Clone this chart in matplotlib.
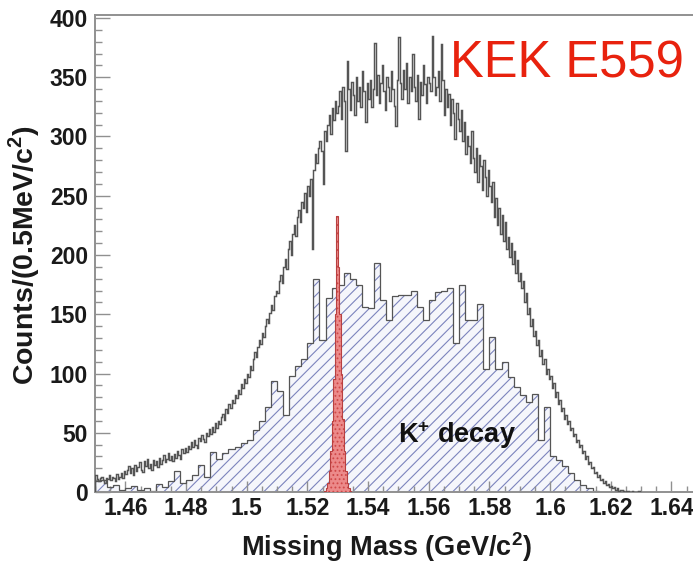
import numpy as np
import matplotlib
matplotlib.use("Agg")
import matplotlib.pyplot as plt
from matplotlib.ticker import MultipleLocator, FuncFormatter

plt.rcParams["font.family"] = ["Liberation Sans", "DejaVu Sans"]
plt.rcParams["mathtext.fontset"] = "custom"
plt.rcParams["mathtext.rm"] = "Liberation Sans:bold"
plt.rcParams["mathtext.bf"] = "Liberation Sans:bold"
plt.rcParams["hatch.linewidth"] = 0.8

# all data, counts per bin
# data histogram, 0.5 MeV bins starting at 1.450 GeV (one row = 10 MeV)
data_counts = [
    14, 11, 9, 12, 13, 10, 8, 12, 11, 14, 10, 13, 12, 9, 15, 11, 13, 16, 12, 18,
    15, 19, 22, 16, 20, 14, 23, 18, 21, 25, 19, 17, 26, 22, 28, 20, 24, 19, 27, 23,
    26, 21, 29, 24, 27, 31, 25, 28, 33, 27, 30, 26, 32, 29, 35, 31, 28, 36, 33, 37,
    34, 39, 36, 42, 38, 44, 40, 37, 46, 43, 48, 45, 42, 50, 47, 53, 49, 55, 51, 58,
    54, 60, 57, 63, 66, 61, 70, 67, 74, 71, 78, 75, 82, 79, 86, 83, 91, 88, 95, 92,
    100, 97, 106, 103, 112, 118, 114, 122, 128, 125, 134, 131, 140, 146, 143, 151, 158, 154, 165, 170,
    168, 178, 183, 176, 190, 197, 188, 205, 212, 200, 218, 225, 216, 232, 238, 228, 245, 240, 252, 236,
    258, 250, 264, 205, 272, 285, 278, 290, 296, 288, 260, 305, 296, 310, 318, 302, 324, 314, 330, 320,
    326, 338, 315, 342, 330, 288, 364, 340, 322, 346, 335, 318, 350, 330, 342, 325, 355, 338, 312, 345,
    332, 348, 325, 340, 379, 335, 352, 328, 345, 360, 338, 322, 350, 342, 330, 355, 340, 326, 309, 348,
    384, 345, 332, 356, 340, 362, 328, 350, 338, 370, 342, 330, 352, 315, 346, 335, 360, 344, 328, 350,
    345, 338, 385, 350, 335, 342, 355, 330, 378, 348, 318, 340, 325, 336, 310, 332, 320, 298, 328, 315,
    305, 322, 296, 312, 285, 300, 292, 278, 305, 282, 270, 290, 262, 284, 275, 255, 280, 266, 250, 272,
    258, 245, 262, 232, 248, 225, 240, 218, 234, 212, 228, 205, 215, 198, 210, 192, 203, 185, 196, 178,
    185, 172, 178, 160, 168, 150, 155, 140, 146, 132, 136, 124, 128, 115, 120, 108, 112, 100, 104, 95,
    98, 88, 92, 80, 84, 74, 78, 68, 71, 62, 65, 57, 60, 52, 54, 47, 49, 42, 44, 38,
    40, 33, 35, 28, 30, 24, 25, 20, 21, 16, 17, 13, 14, 10, 11, 8, 9, 6, 7, 4,
    5, 3, 4, 2, 3, 1, 2, 2, 1, 0, 1, 1, 0, 0, 1, 0, 0, 0, 1, 0,
]
data_start, data_width = 1.450, 0.0005

# K+ decay simulation, 2 MeV bins starting at 1.450 GeV
kdecay_counts = [
    9, 10, 4, 6, 2, 3, 5, 2, 3, 1,
    7, 4, 9, 18, 8, 10, 14, 23, 13, 34,
    28, 33, 36, 38, 41, 44, 52, 60, 72, 94,
    85, 65, 98, 106, 112, 126, 180, 128, 164, 172,
    175, 185, 180, 175, 156, 155, 193, 162, 145, 165,
    166, 166, 170, 156, 145, 162, 169, 170, 172, 126,
    175, 145, 145, 159, 104, 131, 104, 110, 97, 89,
    82, 76, 83, 44, 72, 30, 27, 22, 16, 10,
    6, 3, 1, 0, 0, 0, 0, 0, 0, 0,
]
kdecay_start, kdecay_width = 1.450, 0.002

# narrow peak, 0.5 MeV bins
peak_counts = [1, 3, 8, 18, 35, 60, 95, 150, 233, 190, 150, 100, 62, 35, 18, 8, 3, 1]
peak_start, peak_width = 1.5255, 0.0005


def edges(start, width, n):
    return start + width * np.arange(n + 1)


fig = plt.figure(figsize=(6.93, 5.66), dpi=100)
ax = fig.add_axes([0.1371, 0.1307, 0.8755, 0.8428])

k_edges = edges(kdecay_start, kdecay_width, len(kdecay_counts))
ax.stairs(kdecay_counts, k_edges, fill=True, facecolor="#f5f6fb",
          edgecolor="#7c84bd", hatch="///", linewidth=0, zorder=1)
ax.stairs(kdecay_counts, k_edges, color="#555555", linewidth=0.9, zorder=2)

p_edges = edges(peak_start, peak_width, len(peak_counts))
ax.stairs(peak_counts, p_edges, fill=True, facecolor="#ec8a8a",
          edgecolor="#d04848", hatch="....", linewidth=0, zorder=3)
ax.stairs(peak_counts, p_edges, color="#b84040", linewidth=0.8, zorder=3)

d_edges = edges(data_start, data_width, len(data_counts))
ax.stairs(data_counts, d_edges, color="#555555", linewidth=1.05, zorder=4)

ax.set_xlim(1.45, 1.65)
ax.set_ylim(0, 402.5)

ax.xaxis.set_major_locator(MultipleLocator(0.02))
ax.xaxis.set_minor_locator(MultipleLocator(0.005))
ax.yaxis.set_major_locator(MultipleLocator(50))
ax.yaxis.set_minor_locator(MultipleLocator(10))
ax.xaxis.set_major_formatter(FuncFormatter(lambda v, p: f"{v:.2f}".rstrip("0")))

for side in ["top", "bottom", "left", "right"]:
    ax.spines[side].set_color("#909090")
    ax.spines[side].set_linewidth(1.4)

ax.tick_params(which="both", direction="in", color="#909090", width=1.0,
               labelsize=16.5, labelcolor="#1a1a1a", top=False, right=False)
ax.tick_params(which="major", length=8)
ax.tick_params(which="minor", length=4)
ax.tick_params(axis="x", which="major", pad=3.5)
ax.tick_params(axis="y", which="major", length=11, pad=5)
ax.tick_params(axis="y", which="minor", length=5)
for lab in ax.get_xticklabels() + ax.get_yticklabels():
    lab.set_fontweight("bold")

ax.set_xlabel(r"Missing Mass (GeV/c$^{2}$)", fontsize=19.5, fontweight="bold",
              color="#1a1a1a")
ax.set_ylabel(r"Counts/(0.5MeV/c$^{2}$)", fontsize=20.5, fontweight="bold",
              color="#1a1a1a")
ax.xaxis.set_label_coords(0.48, -0.080)
ax.yaxis.set_label_coords(-0.088, 0.497)

ax.text(0.585, 0.870, "KEK E559", transform=ax.transAxes, fontsize=36.5,
        color="#e8220e", ha="left", va="baseline")
ax.text(0.4994, 0.103, r"K$^{+}$ decay", transform=ax.transAxes, fontsize=19.5,
        fontweight="bold", color="#111111", ha="left", va="baseline", zorder=5)

fig.savefig("out.png", dpi=100)
